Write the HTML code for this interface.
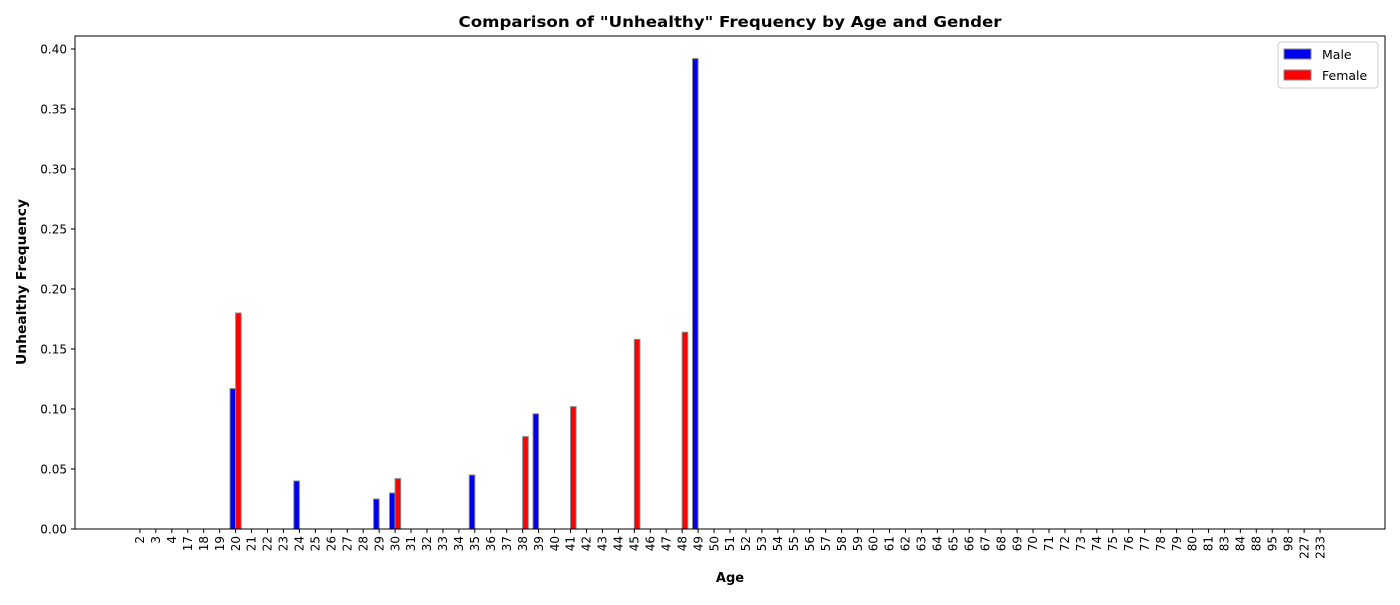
<!DOCTYPE html>
<html><head><meta charset="utf-8"><style>
body{margin:0;background:#fff;font-family:"Liberation Sans","DejaVu Sans",sans-serif}
svg text{font-family:"DejaVu Sans","Liberation Sans",sans-serif}
</style></head><body>
<svg id="chart" width="1400" height="600" xmlns="http://www.w3.org/2000/svg"></svg>
<script>
const categories=[2,3,4,17,18,19,20,21,22,23,24,25,26,27,28,29,30,31,32,33,34,35,36,37,38,39,40,41,42,43,44,45,46,47,48,49,50,51,52,53,54,55,56,57,58,59,60,61,62,63,64,65,66,67,68,69,70,71,72,73,74,75,76,77,78,79,80,81,83,84,88,95,98,227,233];
const maleAges=[20,24,29,30,35,39,49];
const maleValues=[0.117,0.040,0.025,0.030,0.045,0.096,0.392];
const femaleAges=[20,30,38,41,45,48];
const femaleValues=[0.180,0.042,0.077,0.102,0.158,0.164];
const yTicks=[0,0.05,0.10,0.15,0.20,0.25,0.30,0.35,0.40];
const yTickLabels=["0.00","0.05","0.10","0.15","0.20","0.25","0.30","0.35","0.40"];

const svg=document.getElementById('chart');
const NS='http://www.w3.org/2000/svg';
const L=75,R=1385,T=36,B=529;
const xmin=-4.07,xmax=categories.length-1+4.07;
const xs=v=>L+(v-xmin)/(xmax-xmin)*(R-L);
const ys=v=>B-v*1200;
const bw=0.35;
function mk(tag,attrs,parent){const e=document.createElementNS(NS,tag);for(const k in attrs)e.setAttribute(k,attrs[k]);(parent||svg).appendChild(e);return e;}

maleAges.forEach((a,i)=>{const idx=categories.indexOf(a);const x0=xs(idx-bw),x1=xs(idx);
const r=mk('rect',{x:x0,y:ys(maleValues[i]),width:x1-x0,height:B-ys(maleValues[i]),fill:'#0000ee',stroke:'#888','stroke-width':1});

});
femaleAges.forEach((a,i)=>{const idx=categories.indexOf(a);const x0=xs(idx),x1=xs(idx+bw);
const r=mk('rect',{x:x0,y:ys(femaleValues[i]),width:x1-x0,height:B-ys(femaleValues[i]),fill:'#ff0000',stroke:'#888','stroke-width':1});

});

const fr=mk('rect',{x:L,y:T,width:R-L,height:B-T,fill:'none',stroke:'#000','stroke-width':1});



yTicks.forEach((v,i)=>{const y=ys(v);mk('line',{x1:L-4,x2:L,y1:y,y2:y,stroke:'#000'});
const t=mk('text',{x:L-8,y:y+4.5,'text-anchor':'end','font-size':12});t.textContent=yTickLabels[i];

});

categories.forEach((c,i)=>{const x=xs(i);mk('line',{x1:x,x2:x,y1:B,y2:B+4,stroke:'#000'});
const t=mk('text',{x:0,y:0,'text-anchor':'end','font-size':12,transform:`translate(${x+4.2},${B+7}) rotate(-90)`});t.textContent=c;

});
</script>
<svg width="1400" height="600" style="position:absolute;left:0;top:0;pointer-events:none" xmlns="http://www.w3.org/2000/svg">
<text x="730" y="27" text-anchor="middle" font-size="15" font-weight="bold" font-family="Liberation Sans, sans-serif" textLength="543" lengthAdjust="spacingAndGlyphs">Comparison of "Unhealthy" Frequency by Age and Gender</text>
<text x="730" y="582" text-anchor="middle" font-size="13" font-weight="bold" font-family="DejaVu Sans, Liberation Sans, sans-serif">Age</text>
<text transform="translate(26,282) rotate(-90)" text-anchor="middle" font-size="13" font-weight="bold" font-family="DejaVu Sans, Liberation Sans, sans-serif" textLength="166" lengthAdjust="spacingAndGlyphs">Unhealthy Frequency</text>
<g>
<rect x="1278" y="42" width="100" height="46" rx="3" fill="#fff" stroke="#ccc"/>
<rect x="1284" y="49" width="27" height="10" fill="#0000ee" stroke="#888"/>
<text x="1322" y="59" font-size="12.5" font-family="DejaVu Sans, Liberation Sans, sans-serif">Male</text>
<rect x="1284" y="70" width="27" height="10" fill="#ff0000" stroke="#888"/>
<text x="1322" y="80" font-size="12.5" font-family="DejaVu Sans, Liberation Sans, sans-serif">Female</text>
</g>
</svg>
</body></html>
